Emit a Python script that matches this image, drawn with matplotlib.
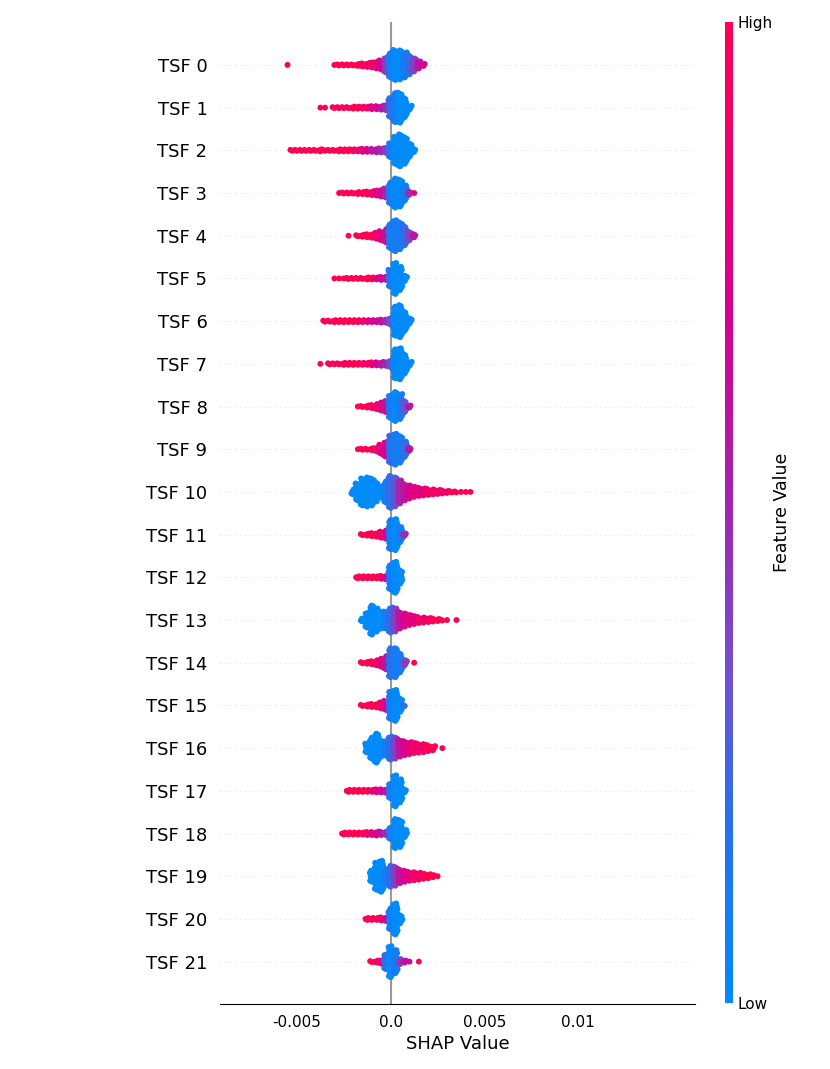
import numpy as np
import matplotlib
matplotlib.use("Agg")
import matplotlib.pyplot as plt
from matplotlib.colors import LinearSegmentedColormap
from matplotlib.cm import ScalarMappable

# feature names, top to bottom
features = ["TSF %d" % i for i in range(22)]

# beeswarm: each feature is a run of SHAP-value bins
# (bin width 0.00025) starting at bin_start, with the number of stacked points
# in each bin and the mean feature value of those points (0 = low, 10 = high)
bin_width = 0.00025
bin_start = [-22, -15, -21, -11, -9, -12, -14, -15, -7, -7, -8,
             -6, -7, -6, -6, -6, -5, -9, -10, -4, -5, -4]
counts = [
    [1, 0, 0, 0, 0, 0, 0, 0, 0, 0, 1, 2, 2, 2, 2, 3, 4, 5, 6, 8, 10, 16, 26, 31, 30, 26, 20, 14, 8, 3],
    [1, 1, 0, 2, 2, 2, 2, 3, 3, 3, 3, 4, 4, 5, 6, 20, 30, 31, 20, 5],
    [2, 2, 2, 2, 2, 2, 3, 2, 2, 2, 3, 3, 3, 3, 3, 4, 4, 4, 5, 5, 6, 15, 28, 33, 28, 14, 4],
    [1, 2, 2, 2, 3, 3, 4, 5, 6, 8, 10, 22, 30, 28, 16, 4, 1],
    [1, 0, 2, 3, 4, 5, 7, 10, 14, 26, 32, 28, 20, 10, 4],
    [1, 1, 1, 2, 2, 2, 2, 3, 3, 3, 4, 4, 18, 32, 24, 6],
    [2, 2, 3, 3, 3, 3, 3, 3, 3, 3, 3, 3, 4, 4, 8, 30, 33, 20, 6],
    [1, 0, 2, 2, 2, 3, 3, 3, 3, 3, 3, 4, 4, 5, 5, 8, 30, 32, 20, 5],
    [1, 2, 3, 4, 6, 9, 12, 24, 30, 26, 12, 3],
    [1, 2, 2, 3, 5, 10, 16, 28, 32, 28, 16, 4],
    [6, 18, 28, 30, 28, 20, 12, 22, 33, 30, 24, 18, 14, 11, 9, 8, 7, 6, 5, 4, 3, 2, 2, 1, 1, 1],
    [2, 3, 4, 5, 7, 9, 30, 32, 16, 3],
    [3, 3, 3, 3, 3, 4, 5, 25, 32, 14],
    [4, 16, 30, 24, 18, 18, 26, 24, 18, 14, 11, 9, 7, 6, 5, 4, 3, 2, 1, 0, 1],
    [2, 3, 4, 6, 9, 14, 30, 30, 20, 6, 0, 1],
    [2, 3, 4, 5, 7, 10, 28, 32, 14, 2],
    [10, 22, 30, 18, 16, 24, 22, 18, 15, 13, 11, 10, 9, 7, 5, 0, 1],
    [3, 3, 3, 3, 3, 3, 4, 4, 5, 16, 32, 24, 4],
    [3, 3, 3, 3, 3, 4, 4, 5, 4, 4, 12, 30, 28, 8],
    [12, 28, 32, 14, 22, 20, 15, 12, 10, 9, 8, 6, 5, 3, 1],
    [3, 3, 3, 4, 5, 22, 32, 10],
    [2, 3, 5, 16, 32, 24, 6, 3, 1, 0, 1],
]
colors = [
    [10, 0, 0, 0, 0, 0, 0, 0, 0, 0, 10, 10, 10, 10, 10, 10, 10, 9, 9, 8, 7, 4, 1, 0, 0, 1, 2, 4, 6, 7],
    [10, 10, 0, 10, 10, 10, 10, 10, 10, 10, 9, 8, 7, 6, 5, 2, 1, 0, 0, 0],
    [10, 10, 10, 10, 10, 10, 10, 10, 10, 10, 10, 10, 10, 9, 9, 8, 7, 6, 6, 5, 4, 1, 0, 0, 0, 0, 0],
    [10, 10, 10, 10, 10, 10, 10, 9, 8, 7, 5, 1, 0, 0, 1, 5, 8],
    [10, 0, 10, 10, 10, 10, 9, 8, 6, 1, 1, 1, 2, 4, 6],
    [10, 10, 10, 10, 10, 10, 10, 10, 10, 8, 7, 6, 1, 0, 0, 0],
    [10, 10, 10, 10, 10, 10, 10, 10, 9, 8, 7, 7, 6, 5, 3, 0, 0, 0, 0],
    [10, 0, 10, 10, 10, 10, 10, 10, 10, 10, 9, 9, 7, 6, 5, 3, 0, 0, 0, 0],
    [10, 10, 10, 9, 9, 8, 6, 1, 0, 1, 3, 6],
    [10, 10, 10, 10, 9, 8, 7, 2, 1, 1, 2, 6],
    [0, 0, 0, 0, 0, 0, 0, 1, 2, 3, 5, 6, 7, 8, 8, 8, 9, 9, 9, 9, 9, 10, 10, 10, 10, 10],
    [10, 10, 10, 10, 9, 7, 1, 0, 1, 5],
    [10, 10, 10, 10, 10, 9, 7, 1, 0, 0],
    [0, 0, 0, 0, 0, 1, 2, 4, 6, 7, 8, 8, 9, 9, 9, 10, 10, 10, 10, 0, 10],
    [10, 10, 10, 9, 8, 6, 2, 1, 1, 4, 0, 10],
    [10, 10, 10, 10, 9, 7, 1, 0, 0, 2],
    [0, 0, 0, 0, 1, 2, 4, 6, 7, 8, 9, 9, 9, 10, 10, 0, 10],
    [10, 10, 10, 10, 10, 9, 8, 7, 6, 1, 0, 0, 0],
    [10, 10, 10, 10, 10, 9, 8, 7, 6, 5, 1, 0, 0, 0],
    [0, 0, 0, 1, 2, 4, 6, 7, 8, 9, 9, 10, 10, 10, 10],
    [10, 10, 10, 9, 7, 1, 0, 0],
    [10, 10, 8, 2, 0, 1, 4, 6, 7, 0, 10],
]

xticks = [-0.005, 0.0, 0.005, 0.01]
xticklabels = ["-0.005", "0.0", "0.005", "0.01"]

# shap-like red/blue map
cmap = LinearSegmentedColormap.from_list("red_blue", [
    (0.0, (0 / 255, 138 / 255, 250 / 255)),
    (0.2, (45 / 255, 110 / 255, 235 / 255)),
    (0.35, (120 / 255, 75 / 255, 205 / 255)),
    (0.5, (158 / 255, 40 / 255, 175 / 255)),
    (0.7, (215 / 255, 0 / 255, 145 / 255)),
    (1.0, (255 / 255, 0 / 255, 82 / 255)),
])

fig = plt.figure(figsize=(8.3, 10.69), dpi=100)
ax = fig.add_axes([0.265, 0.0605, 0.572, 0.9187])

n_feat = len(features)
dy = 0.0234  # vertical step between stacked points (row units)
golden = 0.618034

for i in range(n_feat):
    ypos = n_feat - 1 - i
    ax.axhline(ypos, color="#cccccc", lw=0.6, dashes=(1, 5), zorder=-1)
    xs, ys, cs = [], [], []
    for j, (n, c) in enumerate(zip(counts[i], colors[i])):
        if n == 0:
            continue
        xv = (bin_start[i] + j) * bin_width
        offs = (np.arange(n) - (n - 1) / 2.0) * dy
        # spread the points of a bin across the bin width
        frac = (np.arange(n) * golden + 0.5) % 1.0
        xs.extend(list(xv + (frac - 0.5) * bin_width))
        ys.extend(list(ypos + offs))
        cs.extend([c / 10.0] * n)
    ax.scatter(xs, ys, c=cs, cmap=cmap, vmin=0, vmax=1, s=18,
               linewidths=0, zorder=3, rasterized=True)

ax.axvline(0, color="#999999", lw=1.5, zorder=-1)

ax.set_xlim(-0.0091, 0.0162)
ax.set_ylim(-1, n_feat)
ax.set_yticks(range(n_feat))
ax.set_yticklabels(features[::-1], fontsize=13)
ax.set_xticks(xticks)
ax.set_xticklabels(xticklabels, fontsize=11)
ax.tick_params(axis="y", length=0, pad=9)
ax.tick_params(axis="x", length=0, pad=8)
for s in ["top", "right", "left"]:
    ax.spines[s].set_visible(False)
ax.set_xlabel("SHAP Value", fontsize=13, labelpad=3)

cax = fig.add_axes([0.8735, 0.0615, 0.0096, 0.918])
sm = ScalarMappable(cmap=cmap)
sm.set_array([0, 1])
cb = fig.colorbar(sm, cax=cax, ticks=[0, 1])
cb.set_ticklabels(["Low", "High"])
cb.ax.tick_params(labelsize=11, length=0)
cb.outline.set_visible(False)
cb.set_label("Feature Value", fontsize=12.5, labelpad=0)

fig.savefig("out.png", dpi=100)
